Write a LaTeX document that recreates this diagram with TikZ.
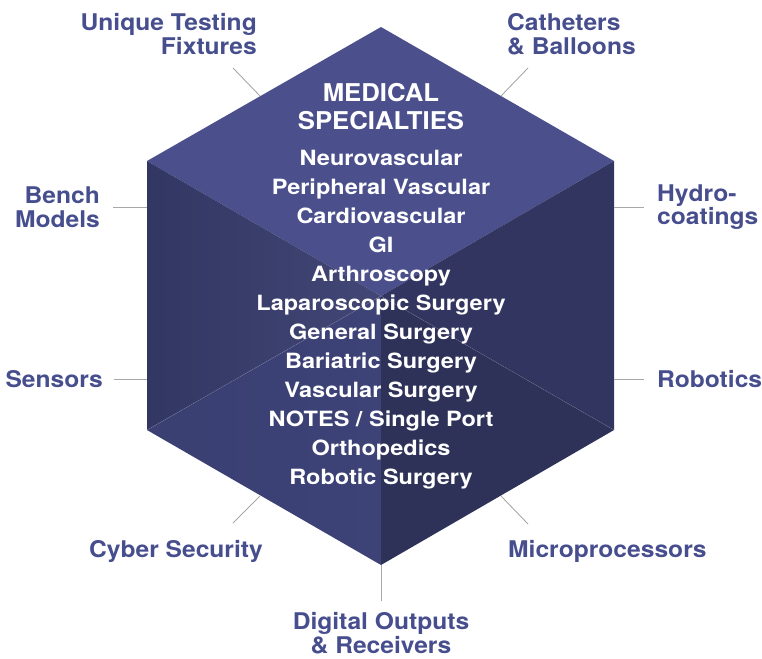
\documentclass[tikz,border=0pt]{standalone}
\usepackage{fontspec}
\setmainfont{TeX Gyre Heros}
\newfontfamily\labelfont{TeX Gyre Heros}[FakeStretch=1.07]
\newfontfamily\listfont{TeX Gyre Heros}[FakeStretch=1.12]
\newfontfamily\titlefont{TeX Gyre Heros}[FakeStretch=1.05]
\usetikzlibrary{positioning}

\definecolor{labelblue}{HTML}{474E8E}
\definecolor{topface}{HTML}{4B508D}
\definecolor{leftface}{HTML}{363B6C}
\definecolor{rightface}{HTML}{31355F}
\definecolor{lowleft}{HTML}{3D4277}
\definecolor{lowright}{HTML}{2E3259}
\definecolor{leadergray}{HTML}{A8A8A8}

\begin{document}
\begin{tikzpicture}[
        x=1pt, y=-1pt,
        every node/.style={inner sep=0pt},
        outer/.style={text=labelblue, font={\labelfont\fontsize{23}{23.5}\selectfont\bfseries}},
        title/.style={text=white, align=center, font={\titlefont\fontsize{24.5}{28}\selectfont\bfseries}},
        listing/.style={text=white, align=center, font={\listfont\fontsize{21}{29}\selectfont\bfseries}},
        leader/.style={draw=leadergray, line width=0.9pt},
        seam/.style={draw=white, draw opacity=0.12, line width=0.6pt}
    ]
    \useasboundingbox (0,0) rectangle (762,658);

    % Hexagon corners
    \coordinate (T) at (381,27);
    \coordinate (UR) at (614,161);
    \coordinate (LR) at (614,430);
    \coordinate (B) at (381,565);
    \coordinate (LL) at (147,430);
    \coordinate (UL) at (147,161);
    \coordinate (C) at (381,296);

    % Faces
    \fill[topface] (T) -- (UR) -- (C) -- (UL) -- cycle;
    \shade[left color=leftface!92!black, right color=leftface!94!white] (UL) -- (C) -- (LL) -- cycle;
    \fill[rightface] (UR) -- (C) -- (LR) -- cycle;
    \shade[left color=lowleft!96!black, right color=lowleft] (LL) -- (C) -- (B) -- cycle;
    \fill[lowright] (C) -- (LR) -- (B) -- cycle;
    \draw[seam] (LL) -- (C) -- (LR);

    % Leaders
    \coordinate (fixturesEdge) at (260,96);
    \coordinate (fixturesEnd) at (233,68);
    \coordinate (cathetersEdge) at (501,96);
    \coordinate (cathetersEnd) at (528,68);
    \coordinate (benchEdge) at (147,207);
    \coordinate (benchEnd) at (113,207);
    \coordinate (hydroEdge) at (614,207);
    \coordinate (hydroEnd) at (644,207);
    \coordinate (sensorsEdge) at (147,379);
    \coordinate (sensorsEnd) at (114,379);
    \coordinate (roboticsEdge) at (614,379);
    \coordinate (roboticsEnd) at (644,379);
    \coordinate (cyberEdge) at (260,496);
    \coordinate (cyberEnd) at (233,523);
    \coordinate (microEdge) at (501,496);
    \coordinate (microEnd) at (528,524);
    \coordinate (digitalEdge) at (381,565);
    \coordinate (digitalEnd) at (381,601);

    \draw[leader] (fixturesEdge) -- (fixturesEnd);
    \draw[leader] (cathetersEdge) -- (cathetersEnd);
    \draw[leader] (benchEdge) -- (benchEnd);
    \draw[leader] (hydroEdge) -- (hydroEnd);
    \draw[leader] (sensorsEdge) -- (sensorsEnd);
    \draw[leader] (roboticsEdge) -- (roboticsEnd);
    \draw[leader] (cyberEdge) -- (cyberEnd);
    \draw[leader] (microEdge) -- (microEnd);
    \draw[leader] (digitalEdge) -- (digitalEnd);

    % Outer labels
    \node[outer, align=right, anchor=east] (fixtures) at (257,34) {Unique Testing\\Fixtures};
    \node[outer, align=left, anchor=west] (catheters) at (507,34) {Catheters\\\& Balloons};
    \node[outer, align=right, left=13pt of benchEnd] (bench) {Bench\\Models};
    \node[outer, align=left, right=13pt of hydroEnd] (hydro) {Hydro-\\coatings};
    \node[outer, left=11pt of sensorsEnd] (sensors) {Sensors};
    \node[outer, right=13pt of roboticsEnd] (robotics) {Robotics};
    \node[outer, anchor=east] (cyber) at (263,551) {Cyber Security};
    \node[outer, anchor=west] (micro) at (508,551) {Microprocessors};
    \node[outer, align=center] (digital) at (381,633) {Digital Outputs\\\& Receivers};

    % Centre text
    \node[title] (heading) at (381,107) {MEDICAL\\SPECIALTIES};
    \node[listing] (specialties) at (381,320) {Neurovascular\\Peripheral Vascular\\Cardiovascular\\GI\\Arthroscopy\\Laparoscopic Surgery\\General Surgery\\Bariatric Surgery\\Vascular Surgery\\NOTES / Single Port\\Orthopedics\\Robotic Surgery};

\end{tikzpicture}
\end{document}
